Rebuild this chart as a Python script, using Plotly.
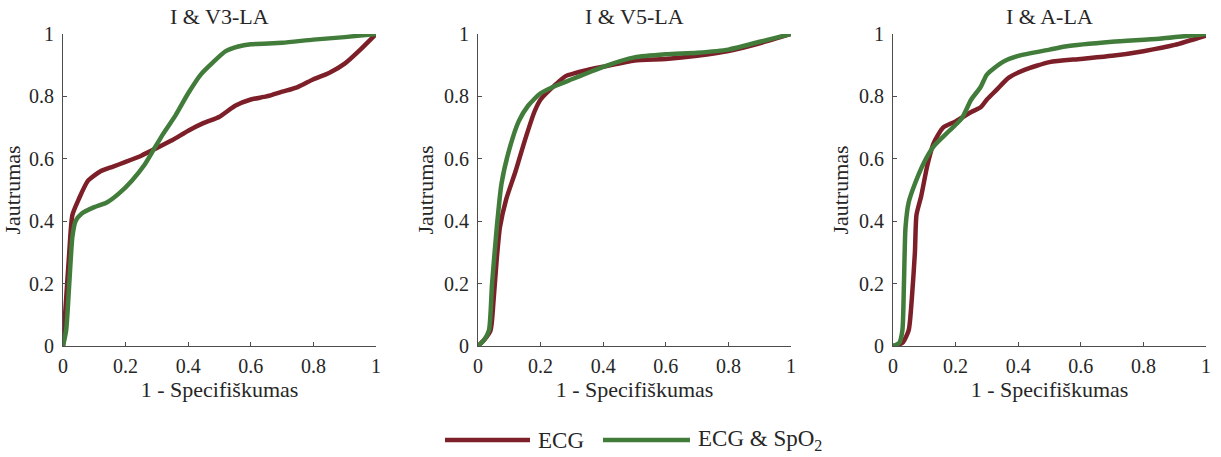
import plotly.graph_objects as go

titles = ["I &amp; V3-LA", "I &amp; V5-LA", "I &amp; A-LA"]
series_names = ["ECG", "ECG &amp; SpO<sub>2</sub>"]

# Panel 1: I & V3-LA
v3_ecg_x = [0, 0.01, 0.02, 0.03, 0.05, 0.08, 0.12, 0.16, 0.2, 0.25, 0.3, 0.35, 0.4, 0.45, 0.5, 0.55, 0.6, 0.65, 0.7, 0.75, 0.8, 0.85, 0.9, 0.95, 1]
v3_ecg_y = [0, 0.15, 0.3, 0.42, 0.47, 0.53, 0.56, 0.575, 0.59, 0.61, 0.635, 0.66, 0.69, 0.715, 0.735, 0.77, 0.79, 0.80, 0.815, 0.83, 0.855, 0.875, 0.905, 0.95, 1]
v3_spo_x = [0, 0.01, 0.02, 0.03, 0.04, 0.06, 0.1, 0.14, 0.18, 0.22, 0.26, 0.29, 0.32, 0.36, 0.4, 0.44, 0.48, 0.52, 0.56, 0.6, 0.7, 0.8, 0.9, 1]
v3_spo_y = [0, 0.05, 0.2, 0.35, 0.4, 0.425, 0.445, 0.46, 0.49, 0.53, 0.58, 0.63, 0.68, 0.74, 0.81, 0.87, 0.91, 0.945, 0.96, 0.967, 0.972, 0.982, 0.99, 1]

# Panel 2: I & V5-LA
v5_ecg_x = [0, 0.02, 0.04, 0.05, 0.06, 0.07, 0.09, 0.12, 0.15, 0.18, 0.2, 0.25, 0.28, 0.35, 0.4, 0.5, 0.6, 0.7, 0.8, 0.9, 1]
v5_ecg_y = [0, 0.02, 0.05, 0.15, 0.28, 0.38, 0.47, 0.56, 0.66, 0.75, 0.79, 0.84, 0.865, 0.885, 0.895, 0.915, 0.92, 0.93, 0.945, 0.97, 1]
v5_spo_x = [0, 0.02, 0.035, 0.045, 0.06, 0.075, 0.1, 0.13, 0.16, 0.2, 0.25, 0.3, 0.35, 0.4, 0.5, 0.6, 0.7, 0.8, 0.9, 1]
v5_spo_y = [0, 0.02, 0.05, 0.2, 0.38, 0.52, 0.63, 0.72, 0.77, 0.81, 0.835, 0.855, 0.875, 0.895, 0.925, 0.935, 0.94, 0.95, 0.975, 1]

# Panel 3: I & A-LA
a_ecg_x = [0, 0.03, 0.05, 0.06, 0.07, 0.075, 0.09, 0.11, 0.13, 0.16, 0.2, 0.25, 0.28, 0.3, 0.33, 0.37, 0.42, 0.5, 0.6, 0.7, 0.8, 0.9, 1]
a_ecg_y = [0, 0.01, 0.05, 0.15, 0.3, 0.42, 0.48, 0.58, 0.65, 0.70, 0.72, 0.75, 0.765, 0.79, 0.82, 0.86, 0.885, 0.91, 0.92, 0.93, 0.945, 0.965, 0.995]
a_spo_x = [0, 0.02, 0.03, 0.035, 0.04, 0.05, 0.07, 0.1, 0.13, 0.18, 0.22, 0.25, 0.28, 0.3, 0.35, 0.4, 0.5, 0.55, 0.7, 0.85, 1]
a_spo_y = [0, 0.01, 0.05, 0.2, 0.38, 0.46, 0.52, 0.59, 0.64, 0.69, 0.73, 0.79, 0.83, 0.87, 0.91, 0.93, 0.95, 0.96, 0.975, 0.985, 1]

tick_vals = [0, 0.2, 0.4, 0.6, 0.8, 1]
tick_text = ["0", "0.2", "0.4", "0.6", "0.8", "1"]

RED = "#7d1f28"
GREEN = "#427c3b"
FONT = "'Liberation Serif', 'Times New Roman', Times, serif"
TXT = "#262626"
FS_TICK = 20
FS_LAB = 22
FS_LEG = 23

panels = [
    (v3_ecg_x, v3_ecg_y, v3_spo_x, v3_spo_y),
    (v5_ecg_x, v5_ecg_y, v5_spo_x, v5_spo_y),
    (a_ecg_x, a_ecg_y, a_spo_x, a_spo_y),
]

W, H = 1221, 457
x_domains = [(63 / W, 376 / W), (478 / W, 791 / W), (893 / W, 1206 / W)]
y_domain = (1 - 346 / H, 1 - 34 / H)

fig = go.Figure()
layout = dict(
    template="none",
    width=W, height=H,
    margin=dict(l=0, r=0, t=0, b=0, autoexpand=False),
    paper_bgcolor="white", plot_bgcolor="white",
    showlegend=False,
    font=dict(family=FONT, size=FS_TICK, color=TXT),
)

annotations = []
for i, (ex, ey, sx, sy) in enumerate(panels):
    n = "" if i == 0 else str(i + 1)
    xa, ya = "x" + n, "y" + n
    fig.add_trace(go.Scatter(x=ex, y=ey, mode="lines", line=dict(color=RED, width=4.5, shape="spline", smoothing=0.6),
                             xaxis=xa, yaxis=ya, name="ECG"))
    fig.add_trace(go.Scatter(x=sx, y=sy, mode="lines", line=dict(color=GREEN, width=4.5, shape="spline", smoothing=0.6),
                             xaxis=xa, yaxis=ya, name="ECG & SpO2"))
    axcommon = dict(range=[0, 1], tickvals=tick_vals, ticktext=tick_text, showgrid=False, zeroline=False,
                    showline=True, linecolor="#4d4d4d", linewidth=1, ticks="inside", ticklen=4,
                    tickcolor="#4d4d4d", tickfont=dict(family=FONT, size=FS_TICK, color=TXT),
                    fixedrange=True, automargin=False)
    layout["xaxis" + n] = dict(axcommon, domain=list(x_domains[i]), anchor=ya, ticklabelstandoff=2,
                               title=dict(text="1 - Specifiškumas", font=dict(family=FONT, size=FS_LAB, color=TXT), standoff=0))
    layout["yaxis" + n] = dict(axcommon, domain=list(y_domain), anchor=xa, ticklabelstandoff=4,
                               title=dict(text="Jautrumas", font=dict(family=FONT, size=FS_LAB, color=TXT), standoff=4))
    annotations.append(dict(text=titles[i], xref="paper", yref="paper",
                            x=(x_domains[i][0] + x_domains[i][1]) / 2, y=1 - 17 / H,
                            xanchor="center", yanchor="middle", showarrow=False,
                            font=dict(family=FONT, size=FS_LAB, color=TXT)))

# custom legend at the bottom
leg_y = 1 - 440 / H
shapes = [
    dict(type="line", xref="paper", yref="paper", x0=445 / W, x1=530 / W, y0=leg_y, y1=leg_y,
         line=dict(color=RED, width=4.5)),
    dict(type="line", xref="paper", yref="paper", x0=603 / W, x1=690 / W, y0=leg_y, y1=leg_y,
         line=dict(color=GREEN, width=4.5)),
]
annotations.append(dict(text=series_names[0], xref="paper", yref="paper", x=536 / W, y=leg_y,
                        xanchor="left", yanchor="middle", showarrow=False,
                        font=dict(family=FONT, size=FS_LEG, color=TXT)))
annotations.append(dict(text=series_names[1], xref="paper", yref="paper", x=696 / W, y=leg_y + 0 / H,
                        xanchor="left", yanchor="middle", showarrow=False,
                        font=dict(family=FONT, size=FS_LEG, color=TXT)))
layout["annotations"] = annotations
layout["shapes"] = shapes

fig.update_layout(**layout)
fig.write_html("out.html")
